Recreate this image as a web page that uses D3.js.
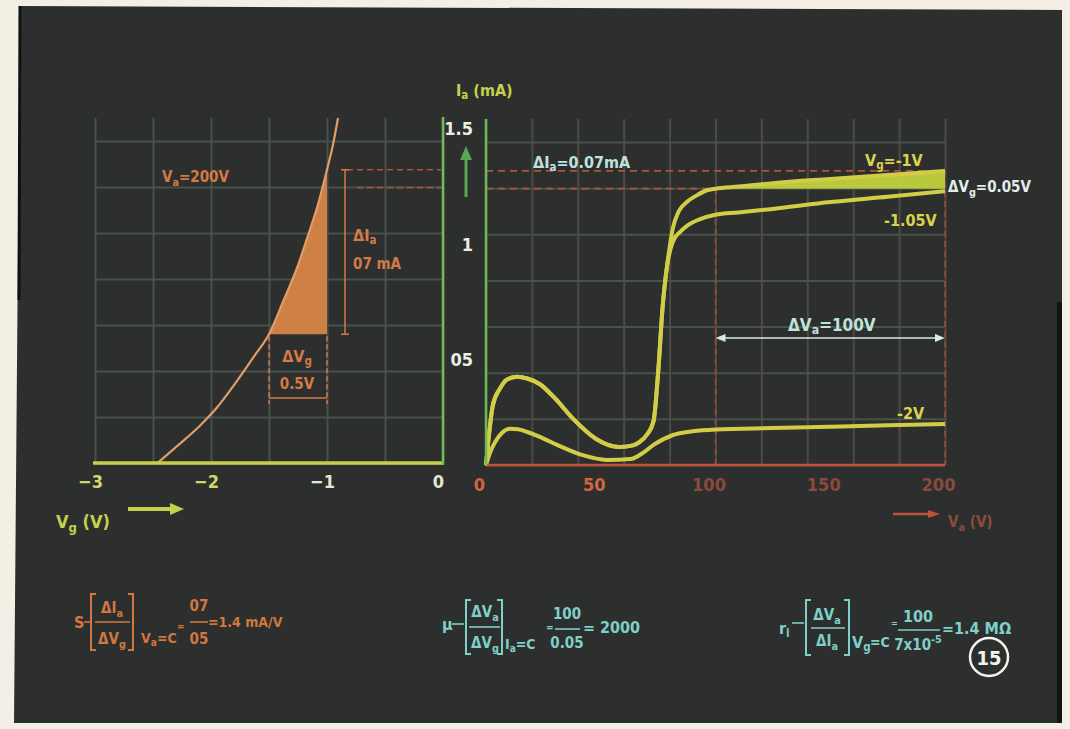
<!DOCTYPE html>
<html>
<head>
<meta charset="utf-8">
<script src="https://cdn.jsdelivr.net/npm/d3@7"></script>
<style>
body { margin: 0; background: #f3efe4; }
svg { display: block; }
text { font-family: "DejaVu Sans Condensed", "DejaVu Sans", sans-serif; font-stretch: condensed; font-weight: bold; }
</style>
</head>
<body>
<div id="chart"></div>
<script>
// ---- data ----
// left panel: Ia (mA) against Vg (V) at Va = 200V
var leftVg = [-2.46, -2.3, -2.1, -1.95, -1.8, -1.62, -1.5, -1.38, -1.25, -1.17, -1.08, -1.0, -0.95, -0.905];
var leftIa = [0, 0.07, 0.16, 0.24, 0.34, 0.47, 0.56, 0.70, 0.86, 0.98, 1.12, 1.275, 1.38, 1.5];

// right panel: Ia (mA) against Va (V)
var vaMinus1 = [0, 1.5, 3, 6, 9, 13.5, 18, 23.5, 30, 38, 48, 58, 64, 67, 70, 73, 75, 77, 79, 81.5, 84, 87.5, 92, 96, 100, 110, 125, 150, 175, 200];
var iaMinus1 = [0, 0.15, 0.26, 0.33, 0.37, 0.383, 0.375, 0.35, 0.29, 0.2, 0.113, 0.078, 0.085, 0.1, 0.13, 0.19, 0.4, 0.69, 0.87, 1.03, 1.1, 1.14, 1.17, 1.19, 1.198, 1.207, 1.222, 1.24, 1.257, 1.275];

var vaMinus105 = [0, 1.5, 3, 6, 9, 13.5, 18, 23.5, 30, 38, 48, 58, 64, 67, 70, 73, 75, 77, 79, 80.5, 82, 84.5, 88, 93, 100, 110, 125, 150, 175, 200];
var iaMinus105 = [0, 0.15, 0.26, 0.33, 0.37, 0.383, 0.375, 0.35, 0.29, 0.2, 0.113, 0.078, 0.085, 0.1, 0.13, 0.19, 0.4, 0.69, 0.87, 0.94, 0.98, 1.01, 1.04, 1.065, 1.085, 1.095, 1.11, 1.14, 1.163, 1.187];

var vaMinus2 = [0, 2, 4, 7, 10.5, 14, 18, 24, 31, 42, 52.5, 63, 68, 73, 81.5, 90, 100, 125, 150, 175, 200];
var iaMinus2 = [0, 0.06, 0.1, 0.14, 0.157, 0.155, 0.143, 0.12, 0.087, 0.043, 0.022, 0.026, 0.05, 0.087, 0.13, 0.146, 0.154, 0.16, 0.166, 0.172, 0.178];

var leftXTicks = [-3, -2, -1, 0];
var rightXTicks = [0, 50, 100, 150, 200];
var rightYTicks = [0.5, 1, 1.5];
var rightYLabels = ["05", "1", "1.5"];

// the construction values
var vgLow = -1.5, vgHigh = -1.0;
var iaLow = 0.56, iaHigh = 1.275, iaMid = 1.198;
var vaLow = 100, vaHigh = 200;

// ---- canvas ----
var svg = d3.select("#chart").append("svg")
    .attr("width", 1070)
    .attr("height", 729);

svg.append("rect").attr("width", 1070).attr("height", 729).attr("fill", "#f3efe4");

// dark board
svg.append("path")
    .attr("d", "M20,6 L1062,10 L1062,723 L14,723 Z")
    .attr("fill", "#2d2f2e");
svg.append("line").attr("x1", 20).attr("y1", 6).attr("x2", 19).attr("y2", 300)
    .attr("stroke", "#111").attr("stroke-width", 3);
svg.append("rect").attr("x", 1057).attr("y", 302).attr("width", 5).attr("height", 421).attr("fill", "#141414");

// ---- scales ----
var xL = d3.scaleLinear().domain([-3, 0]).range([95, 443]);
var yL = d3.scaleLinear().domain([0, 1.5]).range([463, 118]);
var xR = d3.scaleLinear().domain([0, 200]).range([486, 945]);
var yR = d3.scaleLinear().domain([0, 1.5]).range([465, 119]);

// small helper for text with sub/superscripts: parts = [[text, "sub"|"sup"|undefined], ...]
function rich(g, x, y, parts, color, size, anchor) {
    var t = g.append("text")
        .attr("x", x).attr("y", y)
        .attr("fill", color)
        .attr("font-size", size)
        .attr("text-anchor", anchor || "start")
        .attr("dominant-baseline", "central");
    var shift = 0;
    parts.forEach(function(p) {
        var s = t.append("tspan").text(p[0]);
        var target = p[1] === "sub" ? size * 0.32 : (p[1] === "sup" ? -size * 0.4 : 0);
        if (target !== shift) { s.attr("dy", target - shift); shift = target; }
        if (p[1]) s.attr("font-size", size * 0.72);
    });
    return t;
}

// ---- left panel ----
var left = svg.append("g");

left.append("g")
    .attr("transform", "translate(0,463)")
    .call(d3.axisBottom(xL).ticks(6).tickSize(-345).tickFormat(""))
    .call(function(g) { g.select(".domain").remove(); })
    .selectAll("line").attr("stroke", "#46524b").attr("stroke-width", 2);

left.append("g")
    .attr("transform", "translate(95,0)")
    .call(d3.axisLeft(yL).ticks(6).tickSize(-348).tickFormat(""))
    .call(function(g) { g.select(".domain").remove(); })
    .selectAll("line").attr("stroke", "#46524b").attr("stroke-width", 2);

// shaded triangle under the curve
var pts = leftVg.map(function(v, i) { return [v, leftIa[i]]; });
var tri = pts.filter(function(p) { return p[0] >= vgLow && p[0] <= vgHigh; });
left.append("path")
    .datum(tri)
    .attr("fill", "#cf8045")
    .attr("d", d3.area().curve(d3.curveMonotoneX)
        .x(function(d) { return xL(d[0]); })
        .y0(yL(iaLow))
        .y1(function(d) { return yL(d[1]); }));

left.append("path")
    .datum(pts)
    .attr("fill", "none")
    .attr("stroke", "#e09d68")
    .attr("stroke-width", 2.2)
    .attr("d", d3.line().curve(d3.curveMonotoneX)
        .x(function(d) { return xL(d[0]); })
        .y(function(d) { return yL(d[1]); }));

// axis lines
left.append("line").attr("x1", 93).attr("x2", xL(0)).attr("y1", 463).attr("y2", 463)
    .attr("stroke", "#c6cf45").attr("stroke-width", 3.5);
left.append("line").attr("x1", xL(0)).attr("x2", xL(0)).attr("y1", 117).attr("y2", 465)
    .attr("stroke", "#77b85a").attr("stroke-width", 2.5);

// dashed levels
[[347, iaHigh], [357, iaMid]].forEach(function(d) {
    left.append("line").attr("x1", d[0]).attr("x2", xL(0) - 2)
        .attr("y1", yL(d[1])).attr("y2", yL(d[1]))
        .attr("stroke", "#b0533a").attr("stroke-width", 1.6).attr("stroke-dasharray", "6,4");
});

// ΔIa marker
var orange = "#d47a45";
left.append("line").attr("x1", 345).attr("x2", 345).attr("y1", yL(iaHigh)).attr("y2", yL(iaLow))
    .attr("stroke", orange).attr("stroke-width", 1.5);
[yL(iaHigh), yL(iaLow)].forEach(function(y) {
    left.append("line").attr("x1", 341).attr("x2", 349).attr("y1", y).attr("y2", y)
        .attr("stroke", orange).attr("stroke-width", 1.5);
});
rich(left, 353, 235, [["ΔI"], ["a", "sub"]], orange, 16);
rich(left, 353, 264, [["07 mA"]], orange, 15);

// ΔVg marker
[xL(vgLow), xL(vgHigh)].forEach(function(x) {
    left.append("line").attr("x1", x).attr("x2", x).attr("y1", yL(iaLow) + 2).attr("y2", 404)
        .attr("stroke", orange).attr("stroke-width", 1.5).attr("stroke-dasharray", "5,3");
});
left.append("line").attr("x1", xL(vgLow)).attr("x2", xL(vgHigh)).attr("y1", 398).attr("y2", 398)
    .attr("stroke", orange).attr("stroke-width", 1.5);
rich(left, 297, 356, [["ΔV"], ["g", "sub"]], orange, 16, "middle");
rich(left, 297, 384, [["0.5V"]], orange, 15, "middle");

rich(left, 162, 177, [["V"], ["a", "sub"], ["=200V"]], orange, 15);

// x tick labels
left.append("g")
    .attr("transform", "translate(-5,463)")
    .call(d3.axisBottom(xL).tickValues(leftXTicks).tickSize(0).tickPadding(12).tickFormat(d3.format("d")))
    .call(function(g) { g.select(".domain").remove(); })
    .selectAll("text")
    .attr("font-size", 18)
    .attr("fill", function(d) { return d <= -2 ? "#d2d76a" : "#e6e6d6"; });

// Vg (V) axis title + arrow
var yg = "#c5d14c";
rich(svg, 56, 521, [["V"], ["g", "sub"], [" (V)"]], yg, 18);
svg.append("line").attr("x1", 128).attr("x2", 172).attr("y1", 509).attr("y2", 509)
    .attr("stroke", yg).attr("stroke-width", 4);
svg.append("path").attr("d", "M170,503 L184,509 L170,515 Z").attr("fill", yg);

// ---- right panel ----
var right = svg.append("g");

right.append("g")
    .attr("transform", "translate(0,465)")
    .call(d3.axisBottom(xR).ticks(8).tickSize(-346).tickFormat(""))
    .call(function(g) { g.select(".domain").remove(); })
    .selectAll("line").attr("stroke", "#4d4a44").attr("stroke-width", 2);

right.append("g")
    .attr("transform", "translate(486,0)")
    .call(d3.axisLeft(yR).ticks(6).tickSize(-459).tickFormat(""))
    .call(function(g) { g.select(".domain").remove(); })
    .selectAll("line").attr("stroke", "#46524b").attr("stroke-width", 2);

// dashed construction lines
right.append("line").attr("x1", xR(0)).attr("x2", xR(vaHigh)).attr("y1", yR(iaHigh)).attr("y2", yR(iaHigh))
    .attr("stroke", "#b0533a").attr("stroke-width", 1.6).attr("stroke-dasharray", "7,5");
right.append("line").attr("x1", xR(0)).attr("x2", xR(vaLow)).attr("y1", yR(iaMid)).attr("y2", yR(iaMid))
    .attr("stroke", "#b0533a").attr("stroke-width", 1.6).attr("stroke-dasharray", "7,5");
right.append("line").attr("x1", xR(vaLow)).attr("x2", xR(vaLow)).attr("y1", yR(iaMid)).attr("y2", 465)
    .attr("stroke", "#9a4a3a").attr("stroke-width", 1.6).attr("stroke-dasharray", "6,4");
right.append("line").attr("x1", xR(vaHigh)).attr("x2", xR(vaHigh)).attr("y1", yR(iaHigh)).attr("y2", 465)
    .attr("stroke", "#9a4a3a").attr("stroke-width", 1.6).attr("stroke-dasharray", "6,4");

// wedge between Vg=-1V curve and the Ia level at Va=100
var m1 = vaMinus1.map(function(v, i) { return [v, iaMinus1[i]]; });
right.append("path")
    .datum(m1.filter(function(d) { return d[0] >= vaLow; }))
    .attr("fill", "#b9c83c")
    .attr("d", d3.area().curve(d3.curveMonotoneX)
        .x(function(d) { return xR(d[0]); })
        .y0(yR(iaMid))
        .y1(function(d) { return yR(d[1]); }));

var curveLine = d3.line().curve(d3.curveMonotoneX)
    .x(function(d) { return xR(d[0]); })
    .y(function(d) { return yR(d[1]); });

var series = [
    vaMinus2.map(function(v, i) { return [v, iaMinus2[i]]; }),
    vaMinus105.map(function(v, i) { return [v, iaMinus105[i]]; }),
    m1
];
series.forEach(function(s) {
    right.append("path").datum(s)
        .attr("fill", "none")
        .attr("stroke", "#d2cd46")
        .attr("stroke-width", 4)
        .attr("d", curveLine);
});

// axes lines
right.append("line").attr("x1", xR(0)).attr("x2", xR(200)).attr("y1", 465).attr("y2", 465)
    .attr("stroke", "#c4523a").attr("stroke-width", 2.5);
right.append("line").attr("x1", 486).attr("x2", 486).attr("y1", 119).attr("y2", 466)
    .attr("stroke", "#6cb955").attr("stroke-width", 2.5);

// tick labels
right.append("g")
    .attr("transform", "translate(-7,465)")
    .call(d3.axisBottom(xR).tickValues(rightXTicks).tickSize(0).tickPadding(13))
    .call(function(g) { g.select(".domain").remove(); })
    .selectAll("text")
    .attr("font-size", 18)
    .attr("fill", function(d) { return d < 100 ? "#d0663e" : "#8a4a3a"; });

right.append("g")
    .attr("transform", "translate(473,10)")
    .call(d3.axisLeft(yR).tickValues(rightYTicks).tickSize(0).tickPadding(0)
        .tickFormat(function(d, i) { return rightYLabels[i]; }))
    .call(function(g) { g.select(".domain").remove(); })
    .selectAll("text")
    .attr("font-size", 18)
    .attr("fill", "#eeeee4");

// Ia axis title and green arrow
rich(svg, 456, 90, [["I"], ["a", "sub"], [" (mA)"]], yg, 16);
svg.append("line").attr("x1", 466).attr("x2", 466).attr("y1", 197).attr("y2", 158)
    .attr("stroke", "#5aa552").attr("stroke-width", 3);
svg.append("path").attr("d", "M460,160 L466,146 L472,160 Z").attr("fill", "#5aa552");

// Va axis title + arrow
svg.append("line").attr("x1", 893).attr("x2", 930).attr("y1", 514).attr("y2", 514)
    .attr("stroke", "#b85238").attr("stroke-width", 2.5);
svg.append("path").attr("d", "M928,510 L940,514 L928,518 Z").attr("fill", "#b85238");
rich(svg, 948, 522, [["V"], ["a", "sub"], [" (V)"]], "#8e4c3c", 15);

// ΔVa double arrow
var pale = "#d6ebe6";
right.append("line").attr("x1", xR(vaLow) + 6).attr("x2", xR(vaHigh) - 6).attr("y1", 338).attr("y2", 338)
    .attr("stroke", pale).attr("stroke-width", 1.6);
right.append("path").attr("d", "M" + (xR(vaLow) + 10) + ",334 L" + xR(vaLow) + ",338 L" + (xR(vaLow) + 10) + ",342 Z").attr("fill", pale);
right.append("path").attr("d", "M" + (xR(vaHigh) - 10) + ",334 L" + xR(vaHigh) + ",338 L" + (xR(vaHigh) - 10) + ",342 Z").attr("fill", pale);

// labels in the right panel
var cyan = "#bfe3dc";
var yel = "#d9d44a";
rich(right, 533, 162, [["ΔI"], ["a", "sub"], ["=0.07mA"]], cyan, 16);
rich(right, 865, 160, [["V"], ["g", "sub"], ["=-1V"]], yel, 16);
rich(right, 948, 187, [["ΔV"], ["g", "sub"], ["=0.05V"]], "#e2eeec", 15);
rich(right, 884, 220, [["-1.05V"]], yel, 16);
rich(right, 788, 325, [["ΔV"], ["a", "sub"], ["=100V"]], cyan, 17);
rich(right, 897, 413, [["-2V"]], yel, 16);

// ---- formulas ----
function bracket(g, x1, x2, y1, y2, color) {
    g.append("path").attr("d", "M" + (x1 + 5) + "," + y1 + " H" + x1 + " V" + y2 + " H" + (x1 + 5))
        .attr("fill", "none").attr("stroke", color).attr("stroke-width", 2);
    g.append("path").attr("d", "M" + (x2 - 5) + "," + y1 + " H" + x2 + " V" + y2 + " H" + (x2 - 5))
        .attr("fill", "none").attr("stroke", color).attr("stroke-width", 2);
}
function bar(g, x1, x2, y, color) {
    g.append("line").attr("x1", x1).attr("x2", x2).attr("y1", y).attr("y2", y)
        .attr("stroke", color).attr("stroke-width", 1.6);
}

var f = svg.append("g");
var fo = "#d0783f";
rich(f, 74, 622, [["S"]], fo, 16);
bar(f, 84, 91, 622, fo);
bracket(f, 91, 133, 594, 650, fo);
rich(f, 112, 608, [["ΔI"], ["a", "sub"]], fo, 15, "middle");
bar(f, 95, 130, 622, fo);
rich(f, 112, 639, [["ΔV"], ["g", "sub"]], fo, 15, "middle");
rich(f, 141, 638, [["V"], ["a", "sub"], ["=C"]], fo, 14);
rich(f, 177, 626, [["="]], fo, 10);
rich(f, 199, 606, [["07"]], fo, 15, "middle");
bar(f, 190, 208, 622, fo);
rich(f, 199, 639, [["05"]], fo, 15, "middle");
rich(f, 208, 622, [["=1.4 mA/V"]], fo, 14);

var fc = "#7fd0c8";
rich(f, 442, 624, [["μ"]], fc, 16);
bar(f, 452, 464, 624, fc);
bracket(f, 466, 502, 600, 654, fc);
rich(f, 485, 612, [["ΔV"], ["a", "sub"]], fc, 15, "middle");
bar(f, 469, 500, 627, fc);
rich(f, 485, 643, [["ΔV"], ["g", "sub"]], fc, 15, "middle");
rich(f, 505, 644, [["I"], ["a", "sub"], ["=C"]], fc, 14);
rich(f, 546, 627, [["="]], fc, 10);
rich(f, 567, 614, [["100"]], fc, 15, "middle");
bar(f, 555, 580, 629, fc);
rich(f, 567, 643, [["0.05"]], fc, 15, "middle");
rich(f, 583, 627, [["= 2000"]], fc, 16);

rich(f, 779, 628, [["r"], ["i", "sub"]], fc, 16);
bar(f, 792, 804, 623, fc);
bracket(f, 806, 849, 600, 655, fc);
rich(f, 827, 615, [["ΔV"], ["a", "sub"]], fc, 15, "middle");
bar(f, 811, 845, 628, fc);
rich(f, 827, 641, [["ΔI"], ["a", "sub"]], fc, 15, "middle");
rich(f, 852, 642, [["V"], ["g", "sub"]], fc, 16);
rich(f, 870, 642, [["=C"]], fc, 14);
rich(f, 891, 623, [["="]], fc, 9);
rich(f, 918, 616, [["100"]], fc, 16, "middle");
bar(f, 898, 940, 630, fc);
rich(f, 918, 645, [["7x10"], ["-5", "sup"]], fc, 15, "middle");
rich(f, 942, 628, [["=1.4 MΩ"]], fc, 16);

svg.append("circle").attr("cx", 989).attr("cy", 657).attr("r", 19)
    .attr("fill", "none").attr("stroke", "#f2f2ee").attr("stroke-width", 2.5);
rich(svg, 989, 658, [["15"]], "#f2f2ee", 20, "middle");
</script>
</body>
</html>
